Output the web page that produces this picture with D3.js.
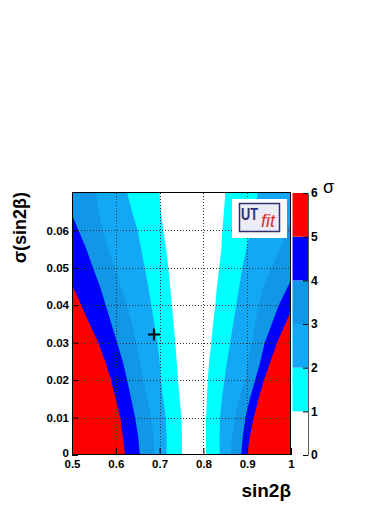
<!DOCTYPE html>
<html><head><meta charset="utf-8">
<script src="https://cdn.jsdelivr.net/npm/d3@7"></script>
<style>
body{margin:0;background:#fff}
svg{display:block}
text{font-family:"Liberation Sans",Arial,Helvetica,sans-serif}
</style>
</head><body>
<svg id="c" width="392" height="508"></svg>
<script>
// ---- data ----
const yLevels = [0, 0.005, 0.01, 0.015, 0.02, 0.025, 0.03, 0.035, 0.04, 0.045, 0.05, 0.055, 0.06, 0.065, 0.07];
// left boundaries (sigma = 1..5)
const left1 = [0.751, 0.751, 0.750, 0.746, 0.742, 0.739, 0.736, 0.732, 0.728, 0.724, 0.720, 0.715, 0.709, 0.703, 0.700];
const left2 = [0.716, 0.716, 0.714, 0.708, 0.703, 0.700, 0.695, 0.688, 0.681, 0.674, 0.666, 0.658, 0.650, 0.637, 0.626];
const left3 = [0.689, 0.686, 0.681, 0.672, 0.663, 0.655, 0.647, 0.637, 0.625, 0.611, 0.597, 0.583, 0.570, 0.561, 0.555];
const left4 = [0.655, 0.651, 0.644, 0.635, 0.626, 0.616, 0.603, 0.590, 0.577, 0.564, 0.548, 0.533, 0.515, 0.497, 0.485];
const left5 = [0.621, 0.616, 0.610, 0.600, 0.589, 0.576, 0.560, 0.540, 0.521, 0.502, 0.480, 0.460, 0.440, 0.420, 0.400];
// right boundaries (sigma = 1..5)
const right1 = [0.806, 0.806, 0.806, 0.808, 0.810, 0.813, 0.818, 0.822, 0.827, 0.831, 0.836, 0.841, 0.843, 0.847, 0.850];
const right2 = [0.837, 0.837, 0.838, 0.842, 0.848, 0.854, 0.861, 0.868, 0.875, 0.882, 0.889, 0.898, 0.908, 0.917, 0.924];
const right3 = [0.861, 0.866, 0.872, 0.882, 0.894, 0.902, 0.910, 0.918, 0.926, 0.937, 0.955, 0.975, 0.990, 1.005, 1.020];
const right4 = [0.886, 0.890, 0.896, 0.906, 0.918, 0.930, 0.940, 0.956, 0.972, 0.993, 1.012, 1.030, 1.050, 1.070, 1.090];
const right5 = [0.900, 0.906, 0.915, 0.926, 0.938, 0.953, 0.968, 0.987, 1.005, 1.025, 1.045, 1.065, 1.085, 1.105, 1.125];
const sigmaLevels = [0, 1, 2, 3, 4, 5, 6];
const bandColors = ["#ffffff", "#00ffff", "#12a8f5", "#1297e6", "#0000ff", "#ff0000"];
const markerX = [0.687];
const markerY = [0.0322];
const xTicks = [0.5, 0.6, 0.7, 0.8, 0.9, 1];
const xLabels = ["0.5", "0.6", "0.7", "0.8", "0.9", "1"];
const yTicks = [0, 0.01, 0.02, 0.03, 0.04, 0.05, 0.06];
const yLabels = ["0", "0.01", "0.02", "0.03", "0.04", "0.05", "0.06"];

// ---- layout ----
const PL = 72, PR = 291, PT = 193, PB = 455;
const svg = d3.select("#c");
const x = d3.scaleLinear().domain([0.5, 1]).range([PL, PR]);
const y = d3.scaleLinear().domain([0, 0.07]).range([PB, PT]);

svg.append("defs").append("clipPath").attr("id", "clip")
  .append("rect").attr("x", PL).attr("y", PT).attr("width", PR - PL).attr("height", PB - PT);

const plot = svg.append("g").attr("clip-path", "url(#clip)");
// outermost band (> 5 sigma)
plot.append("rect").attr("x", PL).attr("y", PT).attr("width", PR - PL).attr("height", PB - PT)
  .attr("fill", bandColors[5]);

const lefts = [left1, left2, left3, left4, left5];
const rights = [right1, right2, right3, right4, right5];
const area = d3.area().y(d => y(d.y)).x0(d => x(d.l)).x1(d => x(d.r)).curve(d3.curveLinear);
for (let k = 5; k >= 1; k--) {
  const pts = yLevels.map((v, i) => ({y: v, l: lefts[k - 1][i], r: rights[k - 1][i]}));
  plot.append("path").attr("d", area(pts)).attr("fill", bandColors[k - 1]);
}

// dotted grid
const grid = svg.append("g").attr("stroke", "#333").attr("stroke-width", 1).attr("stroke-dasharray", "1,2");
xTicks.slice(1, -1).forEach(v => grid.append("line")
  .attr("x1", Math.round(x(v)) + 0.5).attr("x2", Math.round(x(v)) + 0.5).attr("y1", PT).attr("y2", PB));
yTicks.slice(1).forEach(v => grid.append("line")
  .attr("y1", Math.round(y(v)) + 0.5).attr("y2", Math.round(y(v)) + 0.5).attr("x1", PL).attr("x2", PR));

// marker
markerX.forEach((mx, i) => {
  const cx = x(mx), cy = y(markerY[i]);
  svg.append("path").attr("d", `M${cx - 6},${cy}H${cx + 6}M${cx},${cy - 6}V${cy + 6}`)
    .attr("stroke", "#000").attr("stroke-width", 2).attr("fill", "none");
});

// logo
const logo = svg.append("g");
logo.append("rect").attr("x", 232).attr("y", 199).attr("width", 55).attr("height", 39).attr("fill", "#fff");
logo.append("rect").attr("x", 239.5).attr("y", 203.5).attr("width", 40).attr("height", 28)
  .attr("fill", "#ececf6").attr("stroke", "#2f3172").attr("stroke-width", 1.5);
logo.append("text").attr("x", 241).attr("y", 220).attr("font-size", 16).attr("font-weight", "bold")
  .attr("fill", "#2f3172").attr("textLength", 17).attr("lengthAdjust", "spacingAndGlyphs").text("UT");
logo.append("text").attr("x", 261).attr("y", 227).attr("font-size", 18).attr("font-style", "italic")
  .attr("font-family", "'Liberation Serif',serif").attr("fill", "#dd2a2a").text("fit");

// frame
svg.append("rect").attr("x", PL + 0.5).attr("y", PT - 0.5).attr("width", PR - PL - 1).attr("height", PB - PT)
  .attr("fill", "none").attr("stroke", "#000").attr("stroke-width", 1);

// axes
const minorX = d3.range(0.5, 1.0001, 0.02);
const minorY = d3.range(0, 0.0701, 0.002);
const gx = svg.append("g").attr("transform", `translate(0,${PB})`);
gx.call(d3.axisBottom(x).tickValues(minorX).tickSize(-4).tickFormat(""));
gx.call(d3.axisBottom(x).tickValues(xTicks).tickSize(-7).tickPadding(5).tickFormat((d, i) => xLabels[i]));
gx.selectAll(".domain").remove();
gx.selectAll("text").attr("font-size", 11.5).attr("font-weight", "bold").attr("fill", "#000")
  .attr("font-family", "'Liberation Sans',Arial,sans-serif");

const gy = svg.append("g").attr("transform", `translate(${PL},0)`);
gy.call(d3.axisLeft(y).tickValues(minorY).tickSize(-3).tickFormat(""));
gy.call(d3.axisLeft(y).tickValues(yTicks).tickSize(-6).tickPadding(3).tickFormat((d, i) => yLabels[i]));
gy.selectAll(".domain").remove();
gy.selectAll("text").attr("font-size", 11.5).attr("font-weight", "bold").attr("fill", "#000")
  .attr("font-family", "'Liberation Sans',Arial,sans-serif");
gy.selectAll(".tick text").filter((d) => d === 0).attr("dy", "0.1em");

// colour bar
const CBL = 292.5, CBR = 308;
const yc = d3.scaleLinear().domain([0, 6]).range([PB, PT]);
svg.append("g").selectAll("rect").data(bandColors).join("rect")
  .attr("x", CBL).attr("width", CBR - CBL)
  .attr("y", (d, i) => yc(sigmaLevels[i + 1])).attr("height", (d, i) => yc(sigmaLevels[i]) - yc(sigmaLevels[i + 1]))
  .attr("fill", d => d);
const gc = svg.append("g").attr("transform", `translate(${CBR},0)`);
gc.call(d3.axisRight(yc).tickValues(sigmaLevels).tickSize(-5).tickSizeOuter(0).tickPadding(3).tickFormat(d3.format("d")));
gc.selectAll("path.domain").attr("stroke", "#555");
gc.selectAll("text").attr("font-size", 12).attr("font-weight", "bold").attr("fill", "#000")
  .attr("font-family", "'Liberation Sans',Arial,sans-serif");
svg.append("text").attr("x", 323).attr("y", 193).attr("font-size", 18).text("σ");

// titles
svg.append("text").attr("x", PR).attr("y", 497).attr("text-anchor", "end")
  .attr("font-size", 19).attr("font-weight", "bold").text("sin2β");
svg.append("text").attr("transform", `translate(26,${PT - 1}) rotate(-90)`).attr("text-anchor", "end")
  .attr("font-size", 18).attr("font-weight", "bold").text("σ(sin2β)");
</script>
</body></html>
